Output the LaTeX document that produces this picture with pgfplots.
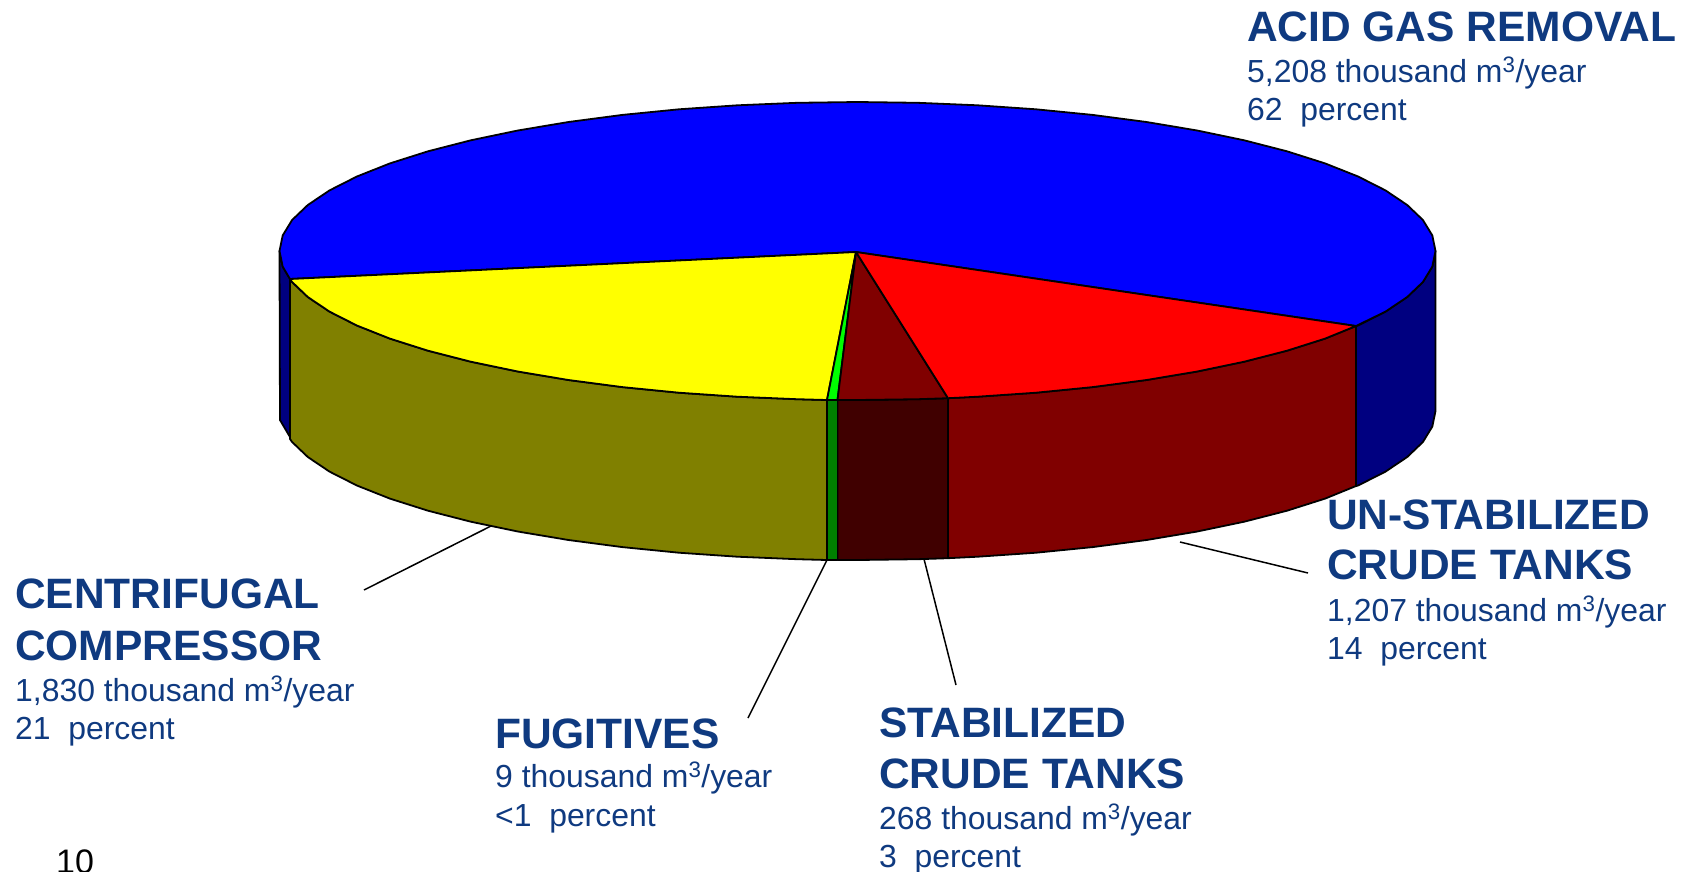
\documentclass[border=0pt]{standalone}
\usepackage{pgfplots}
\pgfplotsset{compat=1.18}
\usepackage{fontspec}
\setmainfont{Liberation Sans}
\definecolor{lab}{HTML}{0F3A80}
\definecolor{navyw}{HTML}{000080}
\definecolor{olivew}{HTML}{808000}
\definecolor{greenw}{HTML}{008000}
\definecolor{redw}{HTML}{800000}
\definecolor{darkw}{HTML}{400000}
\definecolor{pureblue}{HTML}{0000FF}
\definecolor{pureyellow}{HTML}{FFFF00}
\definecolor{puregreen}{HTML}{00FF00}
\definecolor{purered}{HTML}{FF0000}
\newcommand{\hd}{\fontsize{42.5}{43}\selectfont\bfseries\color{lab}}
\newcommand{\bd}{\fontsize{31.9}{32}\selectfont\color{lab}}
\newcommand{\mcube}{m\textsuperscript{3}/year}
\begin{document}
\begin{tikzpicture}[x=1pt,y=1pt]
\path[use as bounding box] (0,0) rectangle (1684,871);
\clip (0,0) rectangle (1684,871);
\begin{axis}[at={(0,0)},anchor=south west,width=1684pt,height=871pt,scale only axis,
  xmin=0,xmax=1684,ymin=0,ymax=871,y dir=reverse,hide axis,clip=false,
  every axis plot/.append style={line join=round,line width=1.8pt,draw=black}]
% side walls
\addplot[fill=navyw] coordinates {(1356,326) (1358.1,325.5) (1385.5,311.6) (1407.2,297) (1422.9,282) (1432.3,266.6) (1435.5,251) (1435.5,411) (1432.3,426.6) (1422.9,442) (1407.2,457) (1385.5,471.6) (1358.1,485.5) (1356,486)} -- cycle;
\addplot[fill=navyw] coordinates {(279.5,251) (282.7,266.6) (290,279) (290,437) (280,420)} -- cycle;
\addplot[fill=redw] coordinates {(948,398.2) (977.7,396.7) (1036.1,392.7) (1092.6,387.1) (1146.5,380) (1197.2,371.5) (1244.2,361.7) (1287,350.7) (1325.1,338.6) (1356,326) (1356,486) (1325.1,498.6) (1287,510.7) (1244.2,521.7) (1197.2,531.5) (1146.5,540) (1092.6,547.1) (1036.1,552.7) (977.7,556.7) (948,558.2)} -- cycle;
\addplot[fill=darkw] coordinates {(837.5,400) (857.5,400) (917.9,399.2) (948,398.2) (948,558.2) (917.9,559.2) (857.5,560) (837.5,560)} -- cycle;
\addplot[fill=greenw] coordinates {(827,400) (837.5,400) (837.5,560) (827,560)} -- cycle;
\addplot[fill=olivew] coordinates {(290,279) (292.1,282) (307.8,297) (329.5,311.6) (356.9,325.5) (389.9,338.6) (428,350.7) (470.8,361.7) (517.8,371.5) (568.5,380) (622.4,387.1) (678.9,392.7) (737.3,396.7) (797.1,399.2) (827,400) (827,560) (797.1,559.2) (737.3,556.7) (678.9,552.7) (622.4,547.1) (568.5,540) (517.8,531.5) (470.8,521.7) (428,510.7) (389.9,498.6) (356.9,485.5) (329.5,471.6) (307.8,457) (292.1,442) (290,439)} -- cycle;
% top faces
\addplot[fill=pureblue] coordinates {(856,252) (1356,326) (1385.5,311.6) (1407.2,297) (1422.9,282) (1432.3,266.6) (1435.5,251) (1432.3,235.4) (1422.9,220) (1407.2,205) (1385.5,190.4) (1358.1,176.5) (1325.1,163.4) (1287,151.3) (1244.2,140.3) (1197.2,130.5) (1146.5,122) (1092.6,114.9) (1036.1,109.3) (977.7,105.3) (917.9,102.8) (857.5,102) (797.1,102.8) (737.3,105.3) (678.9,109.3) (622.4,114.9) (568.5,122) (517.8,130.5) (470.8,140.3) (428,151.3) (389.9,163.4) (356.9,176.5) (329.5,190.4) (307.8,205) (292.1,220) (282.7,235.4) (279.5,251) (282.7,266.6) (290,279)} -- cycle;
\addplot[fill=pureyellow] coordinates {(856,252) (290,279) (292.1,282) (307.8,297) (329.5,311.6) (356.9,325.5) (389.9,338.6) (428,350.7) (470.8,361.7) (517.8,371.5) (568.5,380) (622.4,387.1) (678.9,392.7) (737.3,396.7) (797.1,399.2) (827,400)} -- cycle;
\addplot[fill=puregreen] coordinates {(856,252) (827,400) (837.5,400)} -- cycle;
\addplot[fill=redw] coordinates {(856,252) (837.5,400) (857.5,400) (917.9,399.2) (948,398.2)} -- cycle;
\addplot[fill=purered] coordinates {(856,252) (948,398.2) (977.7,396.7) (1036.1,392.7) (1092.6,387.1) (1146.5,380) (1197.2,371.5) (1244.2,361.7) (1287,350.7) (1325.1,338.6) (1356,326)} -- cycle;
% leader lines
\addplot[line width=1.5pt] coordinates {(491,526) (364,590)};
\addplot[line width=1.5pt] coordinates {(827,560) (748,718)};
\addplot[line width=1.5pt] coordinates {(924,559) (956,685)};
\addplot[line width=1.5pt] coordinates {(1180,542) (1308,573)};
% labels
\node[anchor=base west,inner sep=0pt] at (axis cs:1247,41) {\hd ACID GAS REMOVAL};
\node[anchor=base west,inner sep=0pt] at (axis cs:1247,82) {\bd 5,208 thousand \mcube};
\node[anchor=base west,inner sep=0pt] at (axis cs:1247,120) {\bd 62\ \ percent};
\node[anchor=base west,inner sep=0pt] at (axis cs:1327,529) {\hd UN-STABILIZED};
\node[anchor=base west,inner sep=0pt] at (axis cs:1327,579) {\hd CRUDE TANKS};
\node[anchor=base west,inner sep=0pt] at (axis cs:1327,621) {\bd 1,207 thousand \mcube};
\node[anchor=base west,inner sep=0pt] at (axis cs:1327,659) {\bd 14\ \ percent};
\node[anchor=base west,inner sep=0pt] at (axis cs:15,608) {\hd CENTRIFUGAL};
\node[anchor=base west,inner sep=0pt] at (axis cs:15,660) {\hd COMPRESSOR};
\node[anchor=base west,inner sep=0pt] at (axis cs:15,701) {\bd 1,830 thousand \mcube};
\node[anchor=base west,inner sep=0pt] at (axis cs:15,739) {\bd 21\ \ percent};
\node[anchor=base west,inner sep=0pt] at (axis cs:495,748) {\hd FUGITIVES};
\node[anchor=base west,inner sep=0pt] at (axis cs:495,787) {\bd 9 thousand \mcube};
\node[anchor=base west,inner sep=0pt] at (axis cs:495,826) {\bd <1\ \ percent};
\node[anchor=base west,inner sep=0pt] at (axis cs:879,737) {\hd STABILIZED};
\node[anchor=base west,inner sep=0pt] at (axis cs:879,788) {\hd CRUDE TANKS};
\node[anchor=base west,inner sep=0pt] at (axis cs:879,829) {\bd 268 thousand \mcube};
\node[anchor=base west,inner sep=0pt] at (axis cs:879,867) {\bd 3\ \ percent};
\node[anchor=base west,inner sep=0pt] at (axis cs:56,873) {\fontsize{34}{34}\selectfont 10};
\end{axis}
\end{tikzpicture}
\end{document}
